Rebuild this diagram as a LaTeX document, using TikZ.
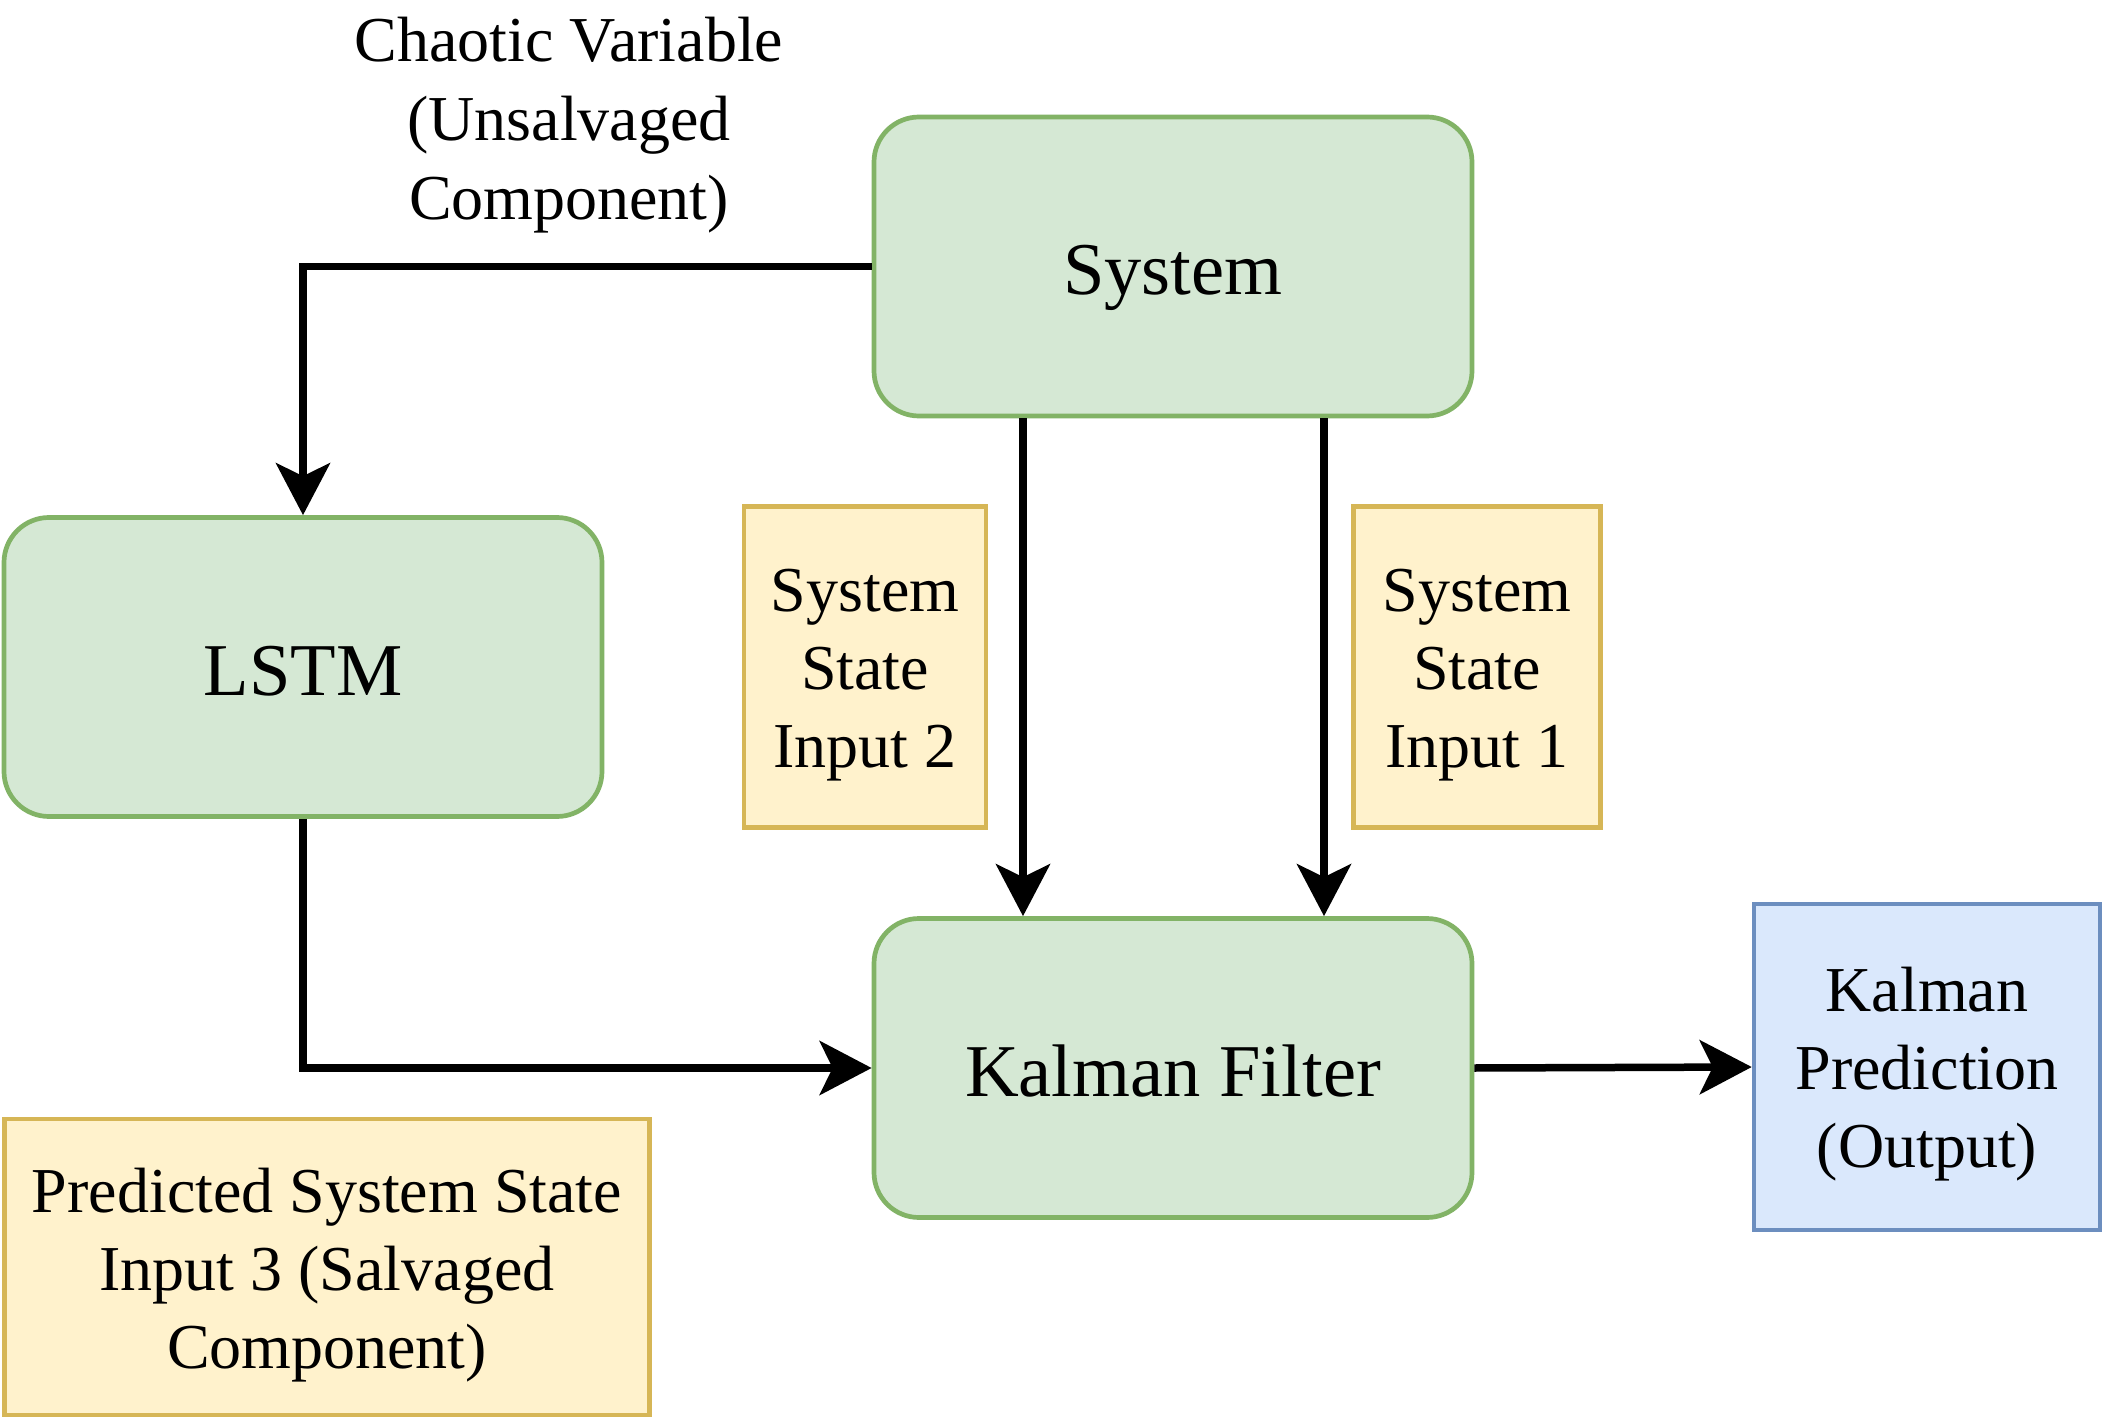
\documentclass[tikz,border=0pt]{standalone}
\usepackage{fontspec}
\setmainfont{Liberation Serif}
\usetikzlibrary{arrows.meta}
\definecolor{gfill}{HTML}{D5E8D4}
\definecolor{gline}{HTML}{82B366}
\definecolor{yfill}{HTML}{FFF2CC}
\definecolor{yline}{HTML}{D6B656}
\definecolor{bfill}{HTML}{DAE8FC}
\definecolor{bline}{HTML}{6C8EBF}
\begin{document}
\begin{tikzpicture}[x=1pt,y=-1pt,
  greenbox/.style={draw=gline, fill=gfill, line width=4.7pt, rounded corners=45pt,
    minimum width=598pt, minimum height=299pt, inner sep=0pt,
    text height=57pt, text depth=0pt,
    font=\fontsize{74.5}{90}\selectfont},
  notebox/.style={draw=yline, fill=yfill, line width=4.5pt, inner sep=0pt},
  outbox/.style={draw=bline, fill=bfill, line width=4.5pt, inner sep=0pt},
  ltext/.style={inner sep=0pt, align=center, yshift=-8pt,
    font=\fontsize{64}{78}\selectfont},
  plain/.style={inner sep=0pt, align=center, font=\fontsize{64}{79}\selectfont},
  arr/.style={line width=7.5pt, -{Stealth[length=52pt, width=54pt, inset=13pt]}}
]
\useasboundingbox (0,0) rectangle (2105,1420);
\fill[white] (0,0) rectangle (2105,1420);

\node[greenbox] (sys) at (1173,266.5) {System};
\node[greenbox] (lstm) at (303,667) {LSTM};
\node[greenbox] (kf) at (1173,1068) {Kalman Filter};

\node[notebox, minimum width=242pt, minimum height=321pt,
  label={[ltext]center:{System\\State\\Input 2}}] (in2) at (865,667) {};
\node[notebox, minimum width=247pt, minimum height=321pt,
  label={[ltext]center:{System\\State\\Input 1}}] (in1) at (1477,667) {};
\node[notebox, minimum width=645pt, minimum height=296pt,
  label={[ltext]center:{Predicted System State\\Input 3 (Salvaged\\Component)}}] (in3) at (327,1267) {};
\node[outbox, minimum width=346pt, minimum height=326pt,
  label={[ltext,yshift=1pt]center:{Kalman\\Prediction\\(Output)}}] (pred) at (1927,1067) {};

\node[plain] (chaos) at (569,125) {Chaotic Variable\\(Unsalvaged\\Component)};

\draw[arr] (sys.west) -| (lstm.north);
\draw[arr] ([xshift=-150pt]sys.south) -- ([xshift=-150pt]kf.north);
\draw[arr] ([xshift=151pt]sys.south) -- ([xshift=151pt]kf.north);
\draw[arr] (lstm.south) |- (kf.west);
\draw[arr] (kf.east) -- (pred.west);
\end{tikzpicture}
\end{document}
